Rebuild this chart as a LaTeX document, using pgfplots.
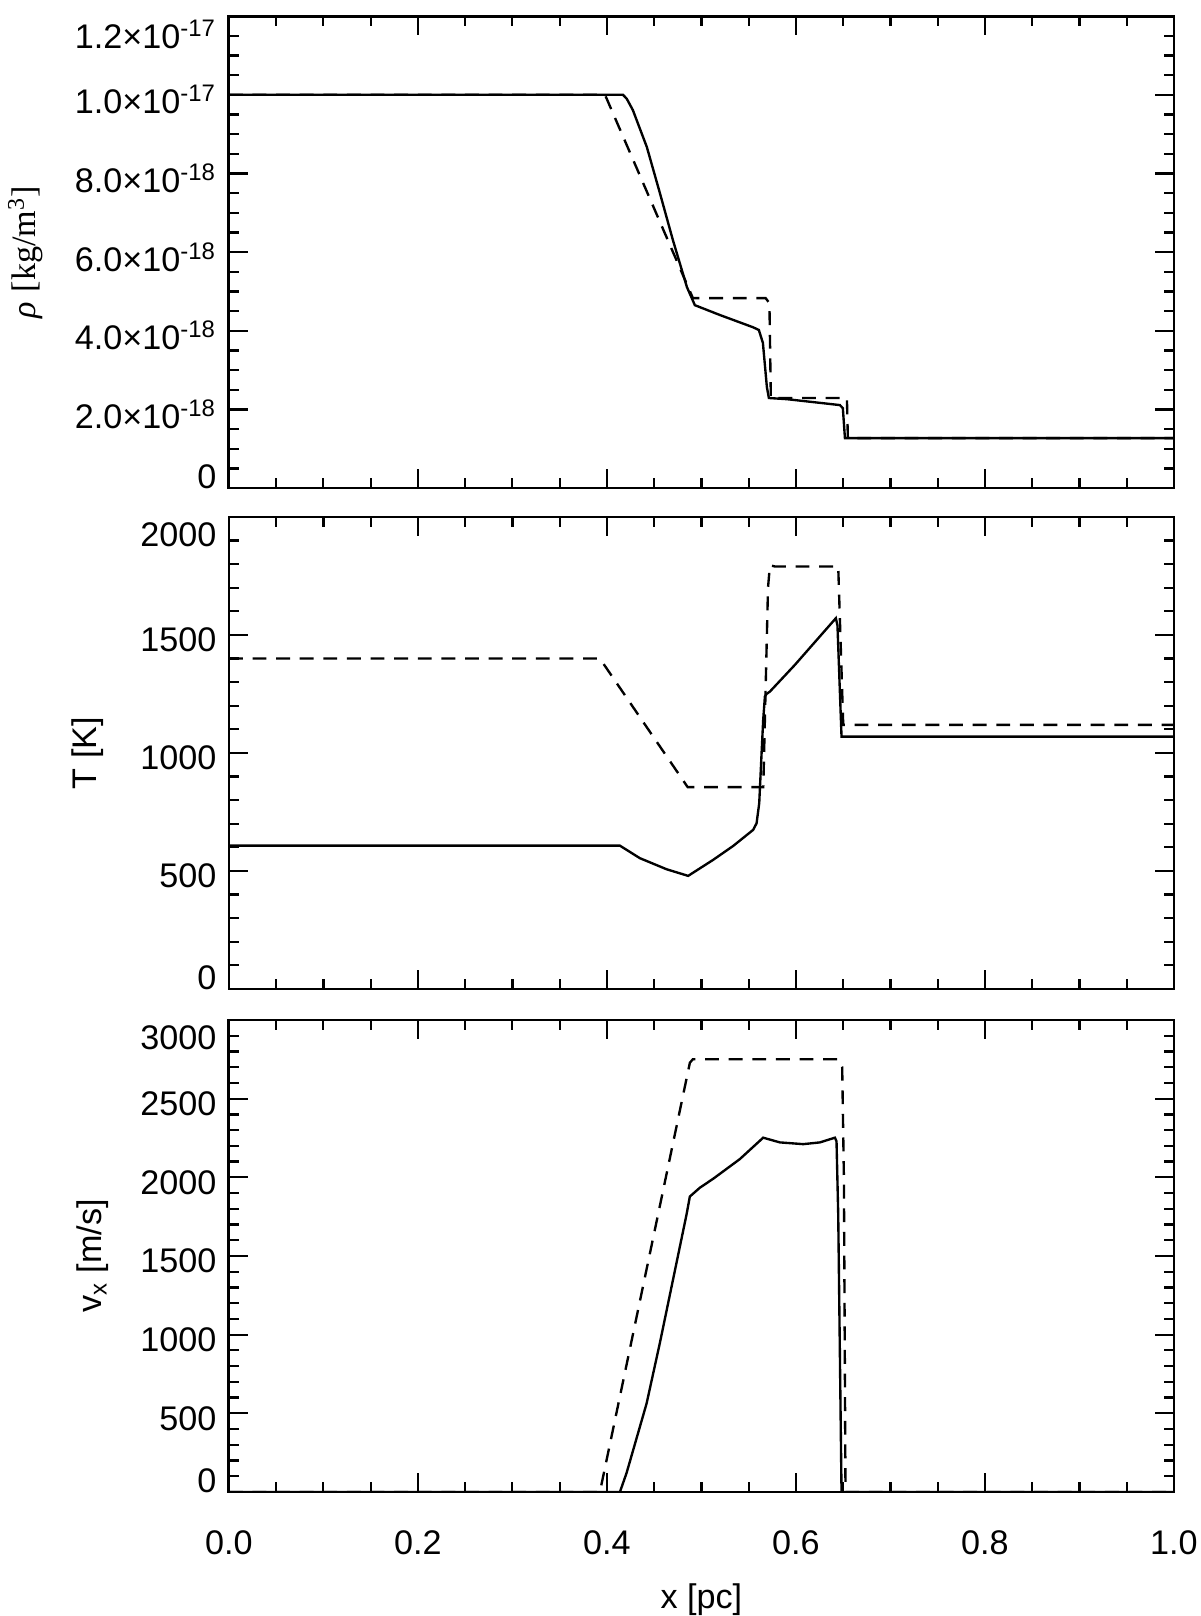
\documentclass[border=0pt]{standalone}
\usepackage{fontspec}
\setmainfont{Liberation Sans}
\newfontfamily\serif{Liberation Serif}
\usepackage{pgfplots}
\pgfplotsset{compat=1.18}

% label moved up/down without changing its box
\newcommand{\lab}[2]{\raisebox{#1}[\height][\depth]{#2}}
\newcommand{\sci}[2]{#1×10\textsuperscript{#2}}

\pgfplotsset{
  panel/.style={
    scale only axis,
    width=340.2pt, height=169.9pt,
    anchor=south west,
    xmin=0, xmax=1,
    xtick={0,0.2,0.4,0.6,0.8,1},
    minor x tick num=3,
    xticklabels={},
    tick align=inside,
    major tick length=6.8pt,
    minor tick length=3.6pt,
    axis line style={line width=1pt},
    every tick/.style={black, line width=0.8pt},
    yticklabel style={yshift=-1.8pt, xshift=-1pt},
    ylabel style={anchor=center},
  },
  sol/.style={black, line width=0.85pt},
  ana/.style={black, line width=0.85pt, dash pattern=on 5pt off 3.5pt},
}

\begin{document}
\begin{tikzpicture}[font=\fontsize{12.3}{14.8}\selectfont]
\path[use as bounding box] (0,0) rectangle (432pt,-581.76pt);

% density
\begin{axis}[panel,
  at={(82.4pt,-175.7pt)},
  ymin=0, ymax=12,
  ytick={0,2,4,6,8,10,12},
  minor y tick num=3,
  yticklabels={\lab{5.8pt}{0},\sci{2.0}{-18},\sci{4.0}{-18},\sci{6.0}{-18},\sci{8.0}{-18},\sci{1.0}{-17},\lab{-4.7pt}{\sci{1.2}{-17}}},
  ylabel={{\serif\itshape ρ} {\serif [kg/m\textsuperscript{3}]}},
  ylabel style={at={(axis description cs:-0.215,0.5)}},
]
% rho in units of 1e-18 kg/m^3
\addplot[ana] coordinates {
  (0,10.0) (0.398,10.0) (0.491,4.83) (0.568,4.83) (0.572,4.70)
  (0.5735,2.29) (0.654,2.29) (0.655,1.27) (1.0,1.27)
};
\addplot[sol] coordinates {
  (0,10.0) (0.417,10.0) (0.421,9.9) (0.4275,9.61) (0.4423,8.67) (0.4561,7.50)
  (0.4698,6.31) (0.4847,5.11) (0.4931,4.65) (0.5196,4.40) (0.5545,4.09)
  (0.5608,4.02) (0.5651,3.69) (0.5693,2.57) (0.5714,2.29) (0.5905,2.26)
  (0.6466,2.11) (0.6497,2.03) (0.6519,1.27) (1.0,1.27)
};
\end{axis}

% temperature
\begin{axis}[panel,
  at={(82.4pt,-356.0pt)},
  ymin=0, ymax=2000,
  ytick={0,500,1000,1500,2000},
  minor y tick num=4,
  yticklabels={\lab{5.8pt}{0},500,1000,1500,\lab{-4.7pt}{2000}},
  ylabel={T [K]},
  ylabel style={at={(axis description cs:-0.149,0.5)}},
]
\addplot[ana] coordinates {
  (0,1400) (0.3926,1400) (0.4855,855) (0.5655,855) (0.5705,1700)
  (0.5725,1795) (0.578,1790) (0.6448,1790) (0.6501,1119) (1.0,1119)
};
\addplot[sol] coordinates {
  (0,607) (0.4138,607) (0.4349,554) (0.4632,507) (0.4860,479) (0.5125,547)
  (0.5337,606) (0.5548,674) (0.5584,702) (0.5612,787) (0.5637,999)
  (0.5654,1140) (0.5672,1239) (0.5690,1250) (0.5725,1260) (0.5989,1373)
  (0.6423,1571) (0.6440,1540) (0.6483,1069) (1.0,1069)
};
\end{axis}

% velocity
\begin{axis}[panel,
  at={(82.4pt,-537.1pt)},
  ymin=0, ymax=3000,
  ytick={0,500,1000,1500,2000,2500,3000},
  minor y tick num=4,
  yticklabels={\lab{5.8pt}{0},500,1000,1500,2000,2500,\lab{-4.7pt}{3000}},
  xticklabels={0.0,0.2,0.4,0.6,0.8,1.0},
  xticklabel style={yshift=-10.5pt},
  ylabel={v\textsubscript{x} [m/s]},
  ylabel style={at={(axis description cs:-0.144,0.5)}},
  xlabel={x [pc]},
  xlabel style={at={(axis description cs:0.5,-0.228)}, anchor=center},
]
\addplot[ana] coordinates {
  (0,0) (0.3926,0) (0.4878,2728) (0.4910,2751) (0.6450,2751)
  (0.6490,2700) (0.6508,2000) (0.6525,0) (1,0)
};
\addplot[sol] coordinates {
  (0,0) (0.4138,0) (0.4208,120) (0.4279,268) (0.4420,562) (0.4561,948)
  (0.4702,1356) (0.4843,1764) (0.4878,1878) (0.4984,1934) (0.5125,1991)
  (0.5407,2116) (0.5654,2252) (0.5831,2222) (0.6078,2211) (0.6254,2222)
  (0.6413,2252) (0.6430,2229) (0.6448,1764) (0.6466,857) (0.6483,0) (1,0)
};
\end{axis}
\end{tikzpicture}
\end{document}
